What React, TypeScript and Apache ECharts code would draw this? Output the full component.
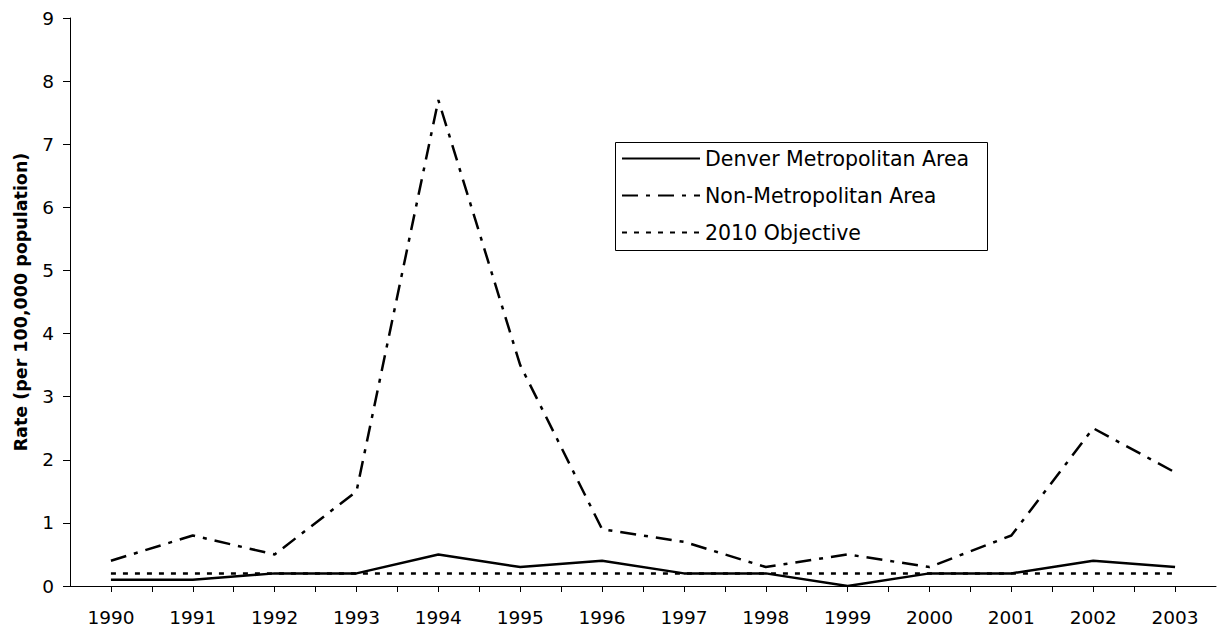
import React, { useEffect, useRef } from "react";
import * as echarts from "echarts";

const years = [1990, 1991, 1992, 1993, 1994, 1995, 1996, 1997, 1998, 1999, 2000, 2001, 2002, 2003];
const denver = [0.1, 0.1, 0.2, 0.2, 0.5, 0.3, 0.4, 0.2, 0.2, 0.0, 0.2, 0.2, 0.4, 0.3];
const nonMetro = [0.4, 0.8, 0.5, 1.5, 7.7, 3.5, 0.9, 0.7, 0.3, 0.5, 0.3, 0.8, 2.5, 1.8];
const objective = [0.2, 0.2, 0.2, 0.2, 0.2, 0.2, 0.2, 0.2, 0.2, 0.2, 0.2, 0.2, 0.2, 0.2];
const seriesNames = ["Denver Metropolitan Area", "Non-Metropolitan Area", "2010 Objective"];
const yAxisTitle = "Rate (per 100,000 population)";

const FONT = "'DejaVu Sans', Arial, 'Liberation Sans', sans-serif";

export default function App() {
  const ref = useRef<HTMLDivElement>(null);
  useEffect(() => {
    if (!ref.current) return;
    const chart = echarts.init(ref.current, null, { renderer: "svg" });
    const pair = (arr: number[]) => years.map((y, i) => [y, arr[i]]);
    chart.setOption({
      animation: false,
      backgroundColor: "#ffffff",
      textStyle: { fontFamily: FONT },
      grid: { left: 70, right: 4, top: 18, bottom: 44, containLabel: false },
      legend: {
        orient: "vertical",
        left: 621,
        top: 148,
        padding: 0,
        itemWidth: 78,
        itemHeight: 14,
        itemGap: 16,
        itemStyle: { opacity: 0 },
        textStyle: { fontSize: 20.5, color: "#000", fontFamily: FONT, lineHeight: 20 },
        data: seriesNames,
      },
      graphic: [
        {
          type: "rect",
          left: 613,
          top: 140,
          shape: { width: 372, height: 108 },
          style: { fill: "none", stroke: "#000", lineWidth: 1 },
          silent: true,
          z: 1,
        },
      ],
      xAxis: {
        type: "value",
        min: 1989.5,
        max: 2003.5,
        interval: 0.5,
        axisLine: { show: true, lineStyle: { color: "#000", width: 1 } },
        axisTick: { show: true, length: 6, lineStyle: { color: "#000" } },
        splitLine: { show: false },
        axisLabel: {
          color: "#000",
          fontSize: 18.5,
          fontFamily: FONT,
          margin: 22,
          showMinLabel: false,
          showMaxLabel: false,
          formatter: (v: number) => (Number.isInteger(v) ? String(v) : ""),
        },
      },
      yAxis: {
        type: "value",
        min: 0,
        max: 9,
        interval: 1,
        name: yAxisTitle,
        nameLocation: "middle",
        nameRotate: 90,
        nameGap: 40,
        nameTextStyle: { fontSize: 17.5, fontWeight: "bold", color: "#000", fontFamily: FONT },
        axisLine: { show: true, lineStyle: { color: "#000", width: 1 } },
        axisTick: { show: true, length: 7, lineStyle: { color: "#000" } },
        splitLine: { show: false },
        axisLabel: { color: "#000", fontSize: 18.5, fontFamily: FONT, margin: 16 },
      },
      series: [
        {
          name: seriesNames[0],
          type: "line",
          data: pair(denver),
          symbol: "none",
          showSymbol: false,
          lineStyle: { color: "#000", width: 2.5, type: "solid" },
          itemStyle: { color: "#000" },
          z: 3,
        },
        {
          name: seriesNames[1],
          type: "line",
          data: pair(nonMetro),
          symbol: "none",
          showSymbol: false,
          lineStyle: { color: "#000", width: 2.5, type: [16, 8, 4, 8] },
          itemStyle: { color: "#000" },
          z: 2,
        },
        {
          name: seriesNames[2],
          type: "line",
          data: pair(objective),
          symbol: "none",
          showSymbol: false,
          lineStyle: { color: "#000", width: 2.5, type: [5, 7] },
          itemStyle: { color: "#000" },
          z: 2,
        },
      ],
    });
    return () => chart.dispose();
  }, []);
  return <div ref={ref} style={{ position: "fixed", left: 0, top: 0, width: 1220, height: 630 }} />;
}
